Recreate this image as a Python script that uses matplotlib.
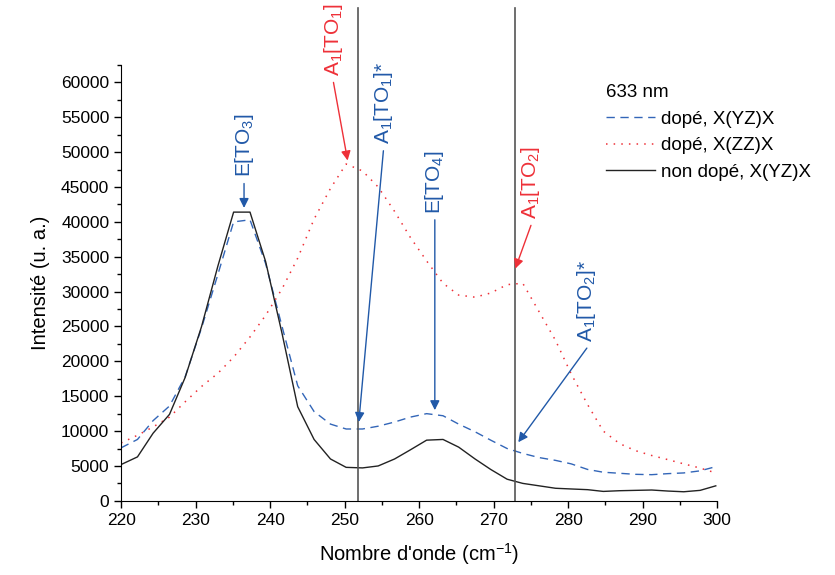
import matplotlib
matplotlib.use("Agg")
import matplotlib.pyplot as plt

plt.rcParams['font.family'] = ['Liberation Sans', 'DejaVu Sans']
plt.rcParams['mathtext.default'] = 'regular'

# Wavenumber grid (cm-1)
wavenumber = [220.0, 222.2, 224.3, 226.5, 228.6, 230.8, 233.0, 235.1, 237.3, 239.4,
              241.6, 243.7, 245.9, 248.1, 250.2, 252.4, 254.5, 256.7, 258.8, 261.0,
              263.2, 265.3, 267.5, 269.6, 271.8, 273.9, 276.1, 278.3, 280.4, 282.6,
              284.7, 286.9, 289.0, 291.2, 293.4, 295.5, 297.7, 299.8]

# doped, X(YZ)X
dope_yz = [7600, 8800, 11500, 13600, 17800, 24800, 32500, 40000, 40300, 34000,
           25000, 16500, 12800, 11000, 10300, 10300, 10700, 11300, 12000, 12500,
           12200, 11000, 9900, 8700, 7500, 6800, 6200, 5800, 5300, 4500,
           4100, 3950, 3800, 3750, 3900, 4000, 4300, 4900]

# doped, X(ZZ)X
dope_zz = [8300, 9400, 10600, 12000, 14200, 16400, 18300, 20600, 23500, 26600,
           30400, 34800, 40400, 44800, 48300, 47300, 45000, 41500, 37800, 34400,
           31200, 29500, 29200, 29800, 31000, 31200, 27100, 23000, 18200, 13800,
           10000, 8200, 7200, 6500, 5900, 5300, 4700, 4000]

# undoped, X(YZ)X
non_dope_yz = [5200, 6300, 9700, 12400, 17700, 25000, 33700, 41400, 41400, 34300,
               24000, 13500, 8800, 6000, 4800, 4720, 5000, 6000, 7300, 8700,
               8800, 7700, 6000, 4500, 3100, 2500, 2150, 1800, 1700, 1600,
               1350, 1450, 1500, 1550, 1400, 1300, 1500, 2150]

vlines = [251.8, 272.9]

# label, colour, arrow tail (x, y), arrow head (x, y)
peaks = [
    ("E[TO$_3$]",    'blue', (236.5, 45500), (236.5, 42000)),
    ("A$_1$[TO$_1$]",  'red',  (248.5, 60000), (250.4, 48800)),
    ("A$_1$[TO$_1$]*", 'blue', (255.2, 50200), (251.9, 11300)),
    ("E[TO$_4$]",    'blue', (262.1, 40300), (262.1, 13000)),
    ("A$_1$[TO$_2$]",  'red',  (275.0, 39500), (272.9, 33300)),
    ("A$_1$[TO$_2$]*", 'blue', (282.5, 21900), (273.3, 8400)),
]
blue = '#2159a8'
red = '#ee3038'

fig = plt.figure(figsize=(8.35, 5.75), dpi=100)
ax = fig.add_axes([0.145, 0.129, 0.714, 0.758])

ax.plot(wavenumber, dope_yz, color='#3366b8', lw=1.0, ls=(0, (6, 4)), label='dopé, X(YZ)X')
ax.plot(wavenumber, dope_zz, color=red, lw=1.1, ls=(0, (1, 4)), label='dopé, X(ZZ)X')
ax.plot(wavenumber, non_dope_yz, color='#222222', lw=1.0, label='non dopé, X(YZ)X')

for v in vlines:
    ax.plot([v, v], [0, 70700], color='#555555', lw=1.2, clip_on=False)

for label, col, tail, head in peaks:
    c = blue if col == 'blue' else red
    ax.annotate('', xy=head, xytext=tail,
                arrowprops=dict(arrowstyle='-|>', color=c, lw=1.0,
                                mutation_scale=14, shrinkA=0, shrinkB=0))
    ax.text(tail[0], tail[1] + 900, label, rotation=90, color=c, fontsize=15,
            ha='center', va='bottom')

ax.set_xlim(220, 300)
ax.set_ylim(0, 62500)
ax.set_xticks(range(220, 301, 10))
ax.set_xticks(range(225, 300, 10), minor=True)
ax.set_yticks(range(0, 60001, 5000))
ax.set_yticks(range(2500, 62501, 5000), minor=True)
ax.tick_params(direction='out', length=5, width=1, labelsize=12.5)
ax.tick_params(which='minor', direction='out', length=3, width=1)
for s in ['top', 'right']:
    ax.spines[s].set_visible(False)

ax.set_xlabel("Nombre d'onde (cm$^{-1}$)", fontsize=14.5, labelpad=10)
ax.set_ylabel('Intensité (u. a.)', fontsize=14.5, labelpad=8)

ax.legend(title='633 nm', loc='upper left', frameon=False, fontsize=13.5,
          title_fontsize=13.5, alignment='left', borderpad=0, handlelength=2.6,
          handletextpad=0.3, labelspacing=0.5,
          bbox_to_anchor=(597 / 835, 1 - 75 / 575), bbox_transform=fig.transFigure)

plt.savefig('out.png', dpi=100)
